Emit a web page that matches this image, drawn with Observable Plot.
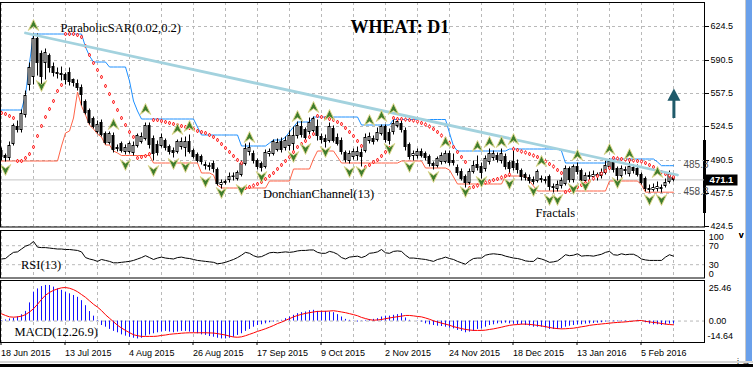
<!DOCTYPE html>
<html><head><meta charset="utf-8">
<script src="https://cdn.jsdelivr.net/npm/d3@7"></script>
<script src="https://cdn.jsdelivr.net/npm/@observablehq/plot@0.6"></script>
<style>
html,body{margin:0;padding:0;background:#fff;}
#wrap{position:relative;width:753px;height:367px;overflow:hidden;background:#fff;}
#wrap svg{position:absolute;left:0;display:block;overflow:visible;}
.chrome{position:absolute;}
</style></head><body><div id="wrap"></div>
<script>
// ---------- data ----------
const open = [500,495,493,507,524,521,536,566,574,612, 597,588,595,584,578,577,576,578,571,567, 563,549,540,532,519,528,517,508,515,503, 507,499,499,498,505,509,512,525,512,506, 505,510,504,500,499,504,503,509,500,496, 494,486,485,487,481,466,468,471,474,472, 476,487,499,497,490,487,484,497,497,501, 509,503,505,507,515,524,521,519,520,524, 514,512,510,522,513,510,498,490,494,495, 498,500,510,512,511,517,524,518,519,525, 527,520,506,495,495,499,497,494,487,485, 489,489,497,490,483,479,474,468,479,486, 484,482,489,493,495,490,494,488,489,487, 480,476,473,471,470,472,471,474,464,462, 465,467,482,471,484,480,470,475,474,476, 475,478,484,488,482,475,481,477,483,482, 476,472,462,461,462,463,465,469,473];
const high = [503,497,509,527,530,541,560,588,617,617, 600,602,597,588,583,584,578,583,572,571, 566,551,542,534,530,531,519,519,518,506, 509,506,509,509,517,518,528,528,515,510, 517,512,506,503,511,513,514,516,502,498, 496,489,488,490,483,471,471,478,478,480, 490,507,508,500,492,489,501,502,511,512, 513,514,520,524,529,530,523,533,534,531, 517,516,528,525,517,513,500,500,502,504, 502,517,518,515,523,526,526,522,531,531, 530,523,508,500,502,502,499,496,489,494, 498,500,500,497,486,482,476,482,490,495, 488,495,502,500,498,502,497,490,502,491, 482,478,476,474,481,475,474,476,467,470, 473,485,484,486,488,482,478,479,480,478, 482,490,492,490,484,485,484,489,486,486, 478,474,466,467,469,466,472,480,476];
const low = [490,489,490,505,518,518,533,560,566,575, 565,571,578,574,572,570,566,565,564,560, 545,536,526,522,517,514,506,506,498,499, 498,496,497,495,503,507,510,502,490,495, 503,500,496,493,497,501,494,497,492,488, 486,481,480,478,465,462,466,468,470,470, 474,485,495,487,481,479,482,494,495,499, 498,500,500,500,512,513,510,516,518,510, 507,503,508,508,505,496,488,487,491,490, 484,498,507,506,509,515,508,506,516,523, 518,500,491,490,492,493,490,484,481,483, 486,487,485,485,475,470,463,466,477,480, 472,479,486,490,488,487,481,474,480,477, 470,470,467,466,468,468,467,460,458,459, 462,465,468,468,476,468,466,471,471,470, 472,476,482,478,470,473,476,474,477,474, 466,459,458,459,459,458,463,467,469];
const close = [494,493,505,525,521,537,555,583,612,588, 574,598,583,578,577,576,571,569,568,563, 556,538,528,524,526,516,508,517,501,502, 500,503,507,505,515,514,525,506,497,498, 513,503,499,498,509,509,509,499,494,490, 489,485,484,482,467,468,469,474,474.5,478, 487,502,503,490,484,483,498,499,509,508, 501,510,515,515,525,516,513,528,532,515, 511,509,524,510,507,499,491,497,499,499, 494,513,514,509,518,524,511,510,527,529, 521,504,494,497,499,495,493,487,485,492, 495,497,488,488,478,472,468,479,485,483, 478,492,497,497,491,497,484,482,483,481, 474,473,470,469,479,471,470,464,463,466, 470,482,471,484,479,470,475,474,476,475, 478,485,489,481,475,482,480,484,480,476, 468,462,461,463,464,462,468,476,471.1];
const donUpper = [541,541,541,541,541,541,556,588,617,617, 617,617,617,617,617,617,617,617,617,617, 617,604,595,589,589,589,589,584,584,584, 584,584,570,550,540,532,532,532,532,532, 532,532,532,532,532,532,532,532,532,524, 516,516,516,516,516,516,516,516,516,516, 505,505,505,505,505,505,505,508,511,511, 511,514,519,524,529,529,529,529,534,534, 534,534,534,534,534,534,534,534,534,534, 526,526,526,526,526,526,526,526,531.5,531.5, 531.5,531.5,531.5,531.5,531.5,531.5,531.5,531.5,531.5,531.5, 531.5,531.5,518,505,500,500,500,500,500,500, 500,500,500,500,500,500,500,502,502,502, 502,502,502,502,502,502,502,502,502,502, 500,488,488,488,488,488,488,488,488,488, 488,488,492,492,492,492,492,492,492,492, 492,492,492,492,489,485.3,485.3,485.3,485.3];
const donLower = [490,490,490,490,490,490,490,490,490,490, 490,490,490,490,490,505,518,520,533,559, 545,536,526,522,517,514,506,506,500,498, 495.5,495.5,495.5,495.5,495.5,495.5,495.5,495.5,488,488, 488,488,488,488,488,488,488,488,488,488, 478,478,478,476,466,463,463,463,463,463, 463,463,463,463,463,463,463,470,470,470, 470,470,470,482,482,482,482,482,492,500, 500,500,500,500,494,488,488,488,488,488, 488,488,488,488,488,488,488,488,488,488, 490,490,490,490,490,490,483,483,483,483, 483,483,481,474,467,467,467,467,467,467, 467,467,467,467,467,467,475,475,475,475, 475,475,470,465,460,460,460,460,460,460, 460,460,460,460,460,460,460,460,460,460, 460,460,470,470,470,470,470,470,470,470, 466,458.8,458.8,458.8,458.8,458.8,458.8,458.8,458.8];
const sar = [538,537,535,533,490,490,493,497,504,515, 525,534,542,550,560,566,617,617,617,616, 614,605,596,588,581,574,565,557,549,541, 533,526,519,514,493,494,495,497,531,531, 530,529,528,527,526,525,524,523,522,520, 519,518,516,514,511,507,503,499,495,491, 488,463,464,465.5,467,469,472,475,478,482, 486,490,494,499,504,507,510,514,517,535, 534,533,532,531,529,527,523,519,515,510, 505,484,486,489,491,495,499,503,533,532, 532,531.5,531,530.5,529.5,528,526.5,524.5,522,519, 515.5,512,508,504,499,494,489,463,464,465.5, 467,468.5,469.5,471,472,473.5,475,476.5,502,501, 499.5,498.5,497,495.5,494,492,489.5,487,484.5,481, 478,459,460.5,462,464,466,468,470,472.5,475, 477.5,480,483,493,492.5,492,491.5,491,490.5,490, 489.5,488,486,484,481.5,479,477,475.5,474];
const fracUpIdx = [8,28,36,44,47,62,74,78,82,92,95,98,111,119,122,125,128,135,144,152,157,164];
const fracUpVal = [626,527,542,522,525,514,535,544,536,531,535,542,509,505,509,509,512,490,496,502,497,479];
const fracDnIdx = [1,10,31,38,43,46,51,55,60,65,73,76,81,87,90,97,102,108,116,120,127,133,137,139,143,146,154,162,165];
const fracDnVal = [481,565,486,480,487,484,469,458,461,474,494,502,499,479,479,502,484,474,459,469,467,460,451,451,462,465,468,451,451];
const rsi = [42,43,50,56,57,63,69,72,79,67, 66,66,65,64,63,63,62,62,61,60, 57,45,42,40,37,41,39,37,34,34, 35,36,37,39,42,45,49,45,41,44, 46,44,43,42,45,46,44,43,41,39, 38,37,36,35,32,33,35,38,41,45, 50,56,54,49,46,47,51,55,56,55, 56,57,56,57,59,60,60,61,61,56, 54,54,58,56,52,45,42,46,47,48, 45,48,54,55,57,62,55,54,58,59, 58,50,44,44,43,42,41,39,37,41, 43,46,43,41,37,34,31,38,43,44, 44,50,52,53,52,51,48,46,44,43, 41,38,37,37,44,42,39,35,36,38, 44,51,49,50,53,48,49,49,48,50, 52,56,58,51,50,53,51,52,52,48, 42,40,39,39,39,39,46,51,48];
const macdHist = [0.3,0.8,1.5,2,3,4.5,6.9,13,20.7,23, 24.7,25.5,25.46,24.3,23,22,20.7,19.5,18.3,17, 14.6,11,6.8,3.5,0.5,-3.2,-4.4,-6,-7.4,-8.4, -9.9,-10.8,-11.6,-12.3,-12.8,-12.3,-10.8,-9.9,-9.1,-8.4, -7.9,-7.4,-7.9,-8.4,-7.9,-7.4,-7.4,-7.9,-8.4,-9.1, -9.9,-10.3,-11.1,-11.6,-12.3,-12.8,-12.8,-12.3,-11.6,-10.3, -9.1,-7.4,-6,-4.4,-3.2,-2.7,-2,-1.2,-0.7,-0.2, 0.5,1.7,2.9,4.1,5.3,6,6.5,7.4,7.7,6.9, 6.9,6.9,6.5,6,4.6,2.9,1.2,0.5,-0.2,-0.7, -0.2,0.5,1,1.2,1.7,2.9,3.5,3.5,4.1,4.6, 5.3,2.2,0.5,0,-0.2,-0.7,-2,-2.7,-3.2,-3.7, -3.9,-4.4,-5.1,-5.6,-6.7,-7.4,-8.4,-7.9,-7.4,-6, -5.6,-4.4,-3.2,-2.7,-2,-2,-1.5,-2,-2.2,-2.7, -2.7,-3.2,-3.7,-4.4,-4.4,-4.4,-5.1,-6,-6,-6, -5.6,-4.4,-3.7,-3.2,-2.7,-2.7,-2.2,-2,-1.7,-1.5, -1.2,-0.7,-0.5,-0.5,-0.5,-0.5,-0.5,-0.2,-0.2,0.5, -0.2,-1.2,-2.2,-2.7,-2.7,-3.2,-2.7,-2.2,-2];
const macdSignal = [5.2,4,3,2.8,3,3.5,4.6,6.5,8.8,12, 15.5,18.5,20.5,22,23,23.8,24,23.5,22.5,21, 19,17,14.5,12,10,7.5,4.5,2,-0.5,-3, -5,-6.7,-8.3,-9.8,-10.5,-11,-11,-11,-11,-10.8, -10.3,-10,-9.5,-9.2,-9,-8.7,-8.5,-8.4,-8.4,-8.4, -8.4,-8.4,-8.5,-8.6,-9,-9.5,-10,-10.8,-11.4,-11.6, -11.3,-10.5,-9.5,-8.5,-7.4,-6.5,-5.5,-4.4,-3.2,-1.8, -0.8,0.5,1.7,3,4,4.8,5.5,6,6.5,6.9, 7,7,7.2,7.4,7,6.5,6,5.3,4.6,3.8, 2.6,1.8,1,0.6,0.8,1.1,1.7,2.2,2.7,3.1, 3.5,4,4,3.7,3.3,3,2.2,1.3,0.2,-0.7, -1.5,-2.2,-3,-4,-4.7,-5.4,-6,-6.4,-6.7,-6.7, -6.7,-6.5,-6,-5.6,-5,-4.4,-3.7,-3.1,-2.7,-2.5, -2.2,-2.2,-2.4,-2.7,-3.1,-3.5,-4,-4.6,-5.1,-5.4, -5.6,-5.5,-5.3,-5.1,-4.6,-4.1,-3.7,-3.1,-2.7,-2.4, -2.1,-1.8,-1.5,-1.2,-1,-0.8,-0.6,-0.3,0,0.3, 0.4,-0.2,-0.6,-1,-1.3,-1.7,-2.2,-2.5,-2.7];
const trendIdx = [6, 169];
const trendVal = [618, 476];
const arrowIdx = [168.1];
const arrowFrom = [532.5];
const arrowTo = [562.5];
const priceTicks = [624.5, 590.5, 557.5, 524.5, 490.5, 457.5, 424.5];
const rsiTicks = [100, 70, 30, 0];
const macdTicks = [25.46, 0, -14.64];
const dateTickIdx = [0,16,32,48,64,80,96,112,128,144,160];
const dateTickLabels = ["18 Jun 2015","13 Jul 2015","4 Aug 2015","26 Aug 2015","17 Sep 2015","9 Oct 2015","2 Nov 2015","24 Nov 2015","18 Dec 2015","13 Jan 2016","5 Feb 2016"];
const lastPrice = 471.1, donUpperLast = 485.3, donLowerLast = 458.8;
const title = "WHEAT: D1";

// ---------- build ----------
const bars = open.map((o,i)=>({i, o, h:high[i], l:low[i], c:close[i], du:donUpper[i], dl:donLower[i], s:sar[i]}));
const fracUp = fracUpIdx.map((i,k)=>({i, v:fracUpVal[k]}));
const fracDn = fracDnIdx.map((i,k)=>({i, v:fracDnVal[k]}));
const trend = trendIdx.map((i,k)=>({i, v:trendVal[k]}));
const arrow = arrowIdx.map((i,k)=>({i, from:arrowFrom[k], to:arrowTo[k]}));
const rsiData = rsi.map((v,i)=>({i,v}));
const macdData = macdHist.map((h,i)=>({i,h,s:macdSignal[i]}));
const labelMap = new Map(dateTickIdx.map((d,k)=>[d, dateTickLabels[k]]));

const xDomain = [-0.25, 175.75];
const gridIdx = d3.range(0, close.length, 8);
const dash = {stroke:"#b9b9b9", strokeOpacity:1, strokeDasharray:"3,3"};
const serif = "'Liberation Serif','Times New Roman',serif";
const sans = "'Liberation Sans',Arial,sans-serif";
const baseStyle = {fontFamily:sans, fontSize:"9px", background:"transparent", color:"#000", overflow:"visible"};

const upSym = {draw(ctx,size){const r=Math.sqrt(size/Math.PI);ctx.moveTo(0,-r);ctx.lineTo(r*0.95,r);ctx.lineTo(0,r*0.3);ctx.lineTo(-r*0.95,r);ctx.closePath();}};
const dnSym = {draw(ctx,size){const r=Math.sqrt(size/Math.PI);ctx.moveTo(0,r);ctx.lineTo(r*0.95,-r);ctx.lineTo(0,-r*0.3);ctx.lineTo(-r*0.95,-r);ctx.closePath();}};
const triSym = {draw(ctx,size){const r=Math.sqrt(size/Math.PI);ctx.moveTo(0,-r);ctx.lineTo(r,r*0.9);ctx.lineTo(-r,r*0.9);ctx.closePath();}};
const boxSym = {draw(ctx,size){ctx.rect(-16,-5.5,32,11);}};

const main = Plot.plot({
  width:753, height:228, marginLeft:0, marginRight:49, marginTop:2, marginBottom:1.5,
  style:baseStyle,
  x:{domain:xDomain, axis:null},
  y:{domain:[424,648.5], axis:null},
  marks:[
    Plot.gridY(priceTicks, dash),
    Plot.gridX(gridIdx, dash),
    Plot.ruleY([lastPrice], {stroke:"#c4c4c4"}),
    Plot.line(bars, {x:"i", y:"du", stroke:"#1e90ff", strokeWidth:1}),
    Plot.line(bars, {x:"i", y:"dl", stroke:"#ff6347", strokeWidth:1}),
    Plot.ruleX(bars, {x:"i", y1:"l", y2:"h", stroke:"#000"}),
    Plot.rect(bars, {x1:d=>d.i-0.25, x2:d=>d.i+0.25, y1:"o", y2:"c", fill:d=>d.c>=d.o?"#fff":"#000", stroke:"#000"}),
    Plot.dot(bars, {x:"i", y:"s", symbol:"diamond", r:1.15, stroke:"#ff0000", fill:"#fff", strokeWidth:0.9}),
    Plot.line(trend, {x:"i", y:"v", stroke:"#a3d2de", strokeWidth:2.8}),
    Plot.dot(fracUp, {x:"i", y:"v", symbol:upSym, r:5.5, fill:"#3f7d2c", stroke:"#e0d890", strokeWidth:1}),
    Plot.dot(fracDn, {x:"i", y:"v", symbol:dnSym, r:5.5, fill:"#3f7d2c", stroke:"#e0d890", strokeWidth:1}),
    Plot.ruleX(arrow, {x:"i", y1:"from", y2:d=>d.to-12, stroke:"#1f5a6a", strokeWidth:3}),
    Plot.dot(arrow, {x:"i", y:d=>d.to-6.5, symbol:triSym, r:6.5, fill:"#1f5a6a", stroke:"none"}),
    Plot.text([donUpperLast, donLowerLast], {y:d=>d, text:d=>d.toFixed(1), frameAnchor:"right", textAnchor:"end", dx:4, dy:-0.5, fill:"#505050", fontSize:10}),
    Plot.axisY(priceTicks, {anchor:"right", tickFormat:d=>d.toFixed(1), tickSize:4, tickPadding:2}),
    Plot.dot([lastPrice], {y:d=>d, frameAnchor:"right", dx:17, symbol:boxSym, r:5, fill:"#000", stroke:"none"}),
    Plot.text([lastPrice], {y:d=>d, text:d=>d.toFixed(1), frameAnchor:"right", dx:17, textAnchor:"middle", fill:"#fff", fontWeight:"bold", fontSize:9.5}),
    Plot.frame({stroke:"#000"}),
    Plot.text([title], {text:d=>d, frameAnchor:"top-left", dx:350, dy:30.7, lineAnchor:"bottom", textAnchor:"start", fontFamily:serif, fontSize:18, fontWeight:"bold"}),
    Plot.text(["ParabolicSAR(0.02,0.2)"], {text:d=>d, frameAnchor:"top-left", dx:60, dy:29.5, lineAnchor:"bottom", textAnchor:"start", fontFamily:serif, fontSize:12.5}),
    Plot.text(["DonchianChannel(13)"], {text:d=>d, frameAnchor:"top-left", dx:262.5, dy:195, lineAnchor:"bottom", textAnchor:"start", fontFamily:serif, fontSize:12.5}),
    Plot.text(["Fractals"], {text:d=>d, frameAnchor:"top-left", dx:535, dy:214, lineAnchor:"bottom", textAnchor:"start", fontFamily:serif, fontSize:12.5})
  ]
});

const rsiPlot = Plot.plot({
  width:753, height:51, marginLeft:0, marginRight:49, marginTop:2, marginBottom:1.5,
  style:baseStyle,
  x:{domain:xDomain, axis:null},
  y:{domain:[2,102], axis:null},
  marks:[
    Plot.gridY([70,30], dash),
    Plot.gridX(gridIdx, dash),
    Plot.line(rsiData, {x:"i", y:"v", stroke:"#000", strokeWidth:1}),
    Plot.axisY([rsiTicks[1], rsiTicks[2]], {anchor:"right", tickSize:0, tickPadding:4.3, tickFormat:d=>String(d)}),
    Plot.axisY([rsiTicks[0]], {anchor:"right", tickSize:0, tickPadding:4.3, tickFormat:d=>String(d), dy:5.5}),
    Plot.axisY([rsiTicks[3]], {anchor:"right", tickSize:0, tickPadding:4.3, tickFormat:d=>String(d), dy:-4.5}),
    Plot.frame({stroke:"#000"}),
    Plot.text(["RSI(13)"], {text:d=>d, frameAnchor:"top-left", dx:20.5, dy:38.5, lineAnchor:"bottom", textAnchor:"start", fontFamily:serif, fontSize:12.5})
  ]
});

const macdPlot = Plot.plot({
  width:753, height:88, marginLeft:0, marginRight:49, marginTop:1, marginBottom:25,
  style:baseStyle,
  x:{domain:xDomain, axis:null},
  y:{domain:[-15.36,29.04], axis:null},
  marks:[
    Plot.gridY([0], dash),
    Plot.gridX(gridIdx, dash),
    Plot.ruleX(macdData, {x:"i", y1:0, y2:"h", stroke:"#1010ff", strokeWidth:1}),
    Plot.line(macdData, {x:"i", y:"s", stroke:"#ff0000", strokeWidth:1}),
    Plot.axisY([macdTicks[0]], {anchor:"right", tickSize:0, tickPadding:4.3, tickFormat:d=>d.toFixed(2), dy:2.7}),
    Plot.axisY([macdTicks[1]], {anchor:"right", tickSize:0, tickPadding:4.3, tickFormat:d=>d.toFixed(2)}),
    Plot.axisY([macdTicks[2]], {anchor:"right", tickSize:0, tickPadding:3, tickFormat:d=>d.toFixed(2), dy:-5.7}),
    Plot.axisX(dateTickIdx, {anchor:"bottom", tickSize:3, tickPadding:4, tickFormat:d=>labelMap.get(d), textAnchor:"start", dx:-0.5}),
    Plot.frame({stroke:"#000"}),
    Plot.text(["MACD(12.26.9)"], {text:d=>d, frameAnchor:"top-left", dx:14, dy:55, lineAnchor:"bottom", textAnchor:"start", fontFamily:serif, fontSize:12.5})
  ]
});

const wrap = document.getElementById("wrap");
function chrome(l,t,w,h,bg){const d=document.createElement("div");d.className="chrome";Object.assign(d.style,{left:l+"px",top:t+"px",width:w+"px",height:h+"px",background:bg});wrap.appendChild(d);}
chrome(703,140,3,73,"#000");
[[main,0],[rsiPlot,228],[macdPlot,279]].forEach(([el,top])=>{el.style.top=top+"px";wrap.appendChild(el);});
chrome(745,0,1,361,"#c8c8c8");
chrome(746,0,6,361,"#6aa0ea");
chrome(0,361,753,2,"#d6d6d6");
chrome(0,364,753,3,"#000");
</script></body></html>
